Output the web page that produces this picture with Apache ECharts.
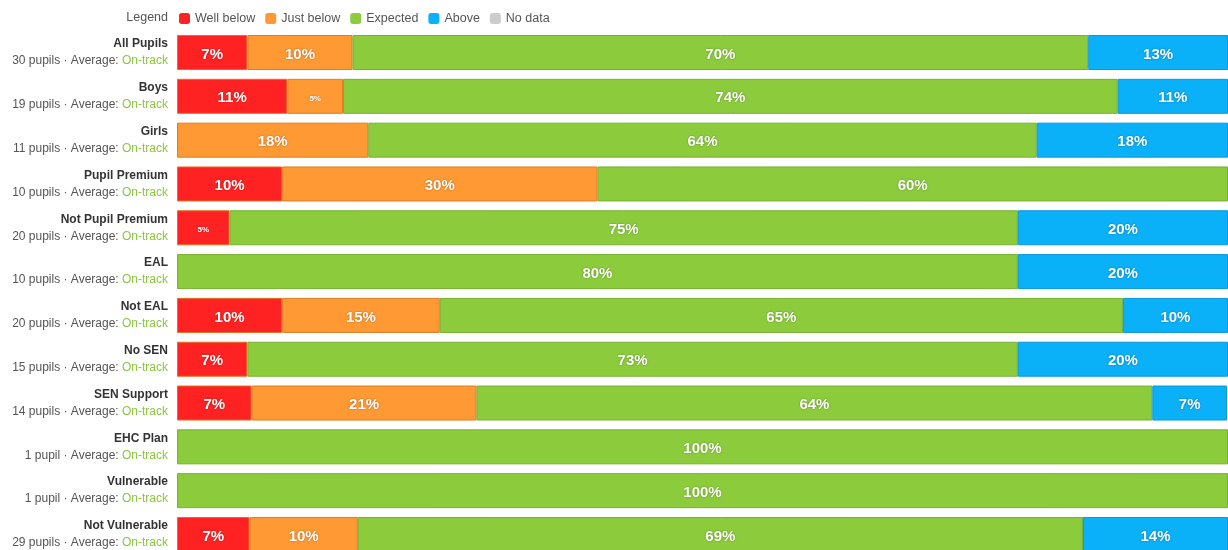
<!DOCTYPE html>
<html>
<head>
<meta charset="utf-8">
<script src="https://cdn.jsdelivr.net/npm/echarts@6/dist/echarts.min.js"></script>
<style>html,body{margin:0;padding:0;background:#fff;}#c{width:1228px;height:550px;}</style>
</head>
<body>
<div id="c"></div>
<script>
var categories = ['All Pupils','Boys','Girls','Pupil Premium','Not Pupil Premium','EAL','Not EAL','No SEN','SEN Support','EHC Plan','Vulnerable','Not Vulnerable'];
var pupils = [30,19,11,10,20,10,20,15,14,1,1,29];
var averages = ['On-track','On-track','On-track','On-track','On-track','On-track','On-track','On-track','On-track','On-track','On-track','On-track'];
var wellBelow = [6.7,10.5,0,10,5,0,10,6.7,7.1,0,0,6.9];
var justBelow = [10,5.3,18.2,30,0,0,15,0,21.4,0,0,10.3];
var expected = [70,73.7,63.6,60,75,80,65,73.3,64.3,100,100,69.0];
var above = [13.3,10.5,18.2,0,20,20,10,20,7.1,0,0,13.8];
var noData = [0,0,0,0,0,0,0,0,0,0,0,0];

var chart = echarts.init(document.getElementById('c'), null, {renderer:'canvas'});
function mk(name, data, color, border){
  return {
    name: name, type:'bar', stack:'s',
    data:data.map(function(v){ return v ? v : '-'; }), barWidth:35,
    itemStyle:{color:color, borderColor:border, borderWidth:1},
    label:{show:true, position:'inside', offset:[0,2], color:'#fff', fontWeight:'bold', fontFamily:'Liberation Sans, Arial, sans-serif',
      textShadowColor:'rgba(0,0,0,0.35)', textShadowBlur:2,
      formatter:function(p){ if(!p.value || p.value==='-') return ''; var r=Math.round(p.value); return r<6 ? '{s|'+r+'%}' : r+'%'; },
      fontSize:15,
      rich:{s:{fontSize:8, color:'#fff', fontWeight:'bold', fontFamily:'Liberation Sans, Arial, sans-serif'}}
    },
    emphasis:{disabled:true}
  };
}
chart.setOption({
  animation:false,
  textStyle:{fontFamily:'Liberation Sans, Arial, sans-serif'},
  graphic:[{type:'text', right:1228-168, top:11, style:{text:'Legend', fill:'#555', font:'12.5px Liberation Sans, Arial, sans-serif', textAlign:'right'}}],
  legend:{left:179, top:12, padding:0, itemWidth:11, itemHeight:11, itemGap:10, icon:'roundRect',
    itemStyle:{borderWidth:0},
    textStyle:{color:'#555', fontSize:12.5},
    data:['Well below','Just below','Expected','Above','No data']},
  grid:{left:177, right:0, top:30.6, height:525.8, containLabel:false, outerBoundsMode:'none'},
  xAxis:{type:'value', min:0, max:100, show:false},
  yAxis:{type:'category', data:categories, inverse:true,
    axisLine:{show:false}, axisTick:{show:false},
    axisLabel:{margin:9, align:'right', lineHeight:17,
      formatter:function(v, i){ var n=pupils[i]; return '{n|'+v+'}\n{g|'+n+(n===1?' pupil':' pupils')+' · Average: }{a|'+averages[i]+'}'; },
      rich:{n:{fontSize:12, fontWeight:'bold', color:'#333', align:'right', lineHeight:17},
            g:{fontSize:12, color:'#555', lineHeight:17},
            a:{fontSize:12, color:'#8cc63f', lineHeight:17}}}},
  series:[
    mk('Well below', wellBelow, '#ff2222', '#e0701c'),
    mk('Just below', justBelow, '#ff9933', '#e07d20'),
    mk('Expected', expected, '#8ccc3c', '#78b030'),
    mk('Above', above, '#0ab0f8', '#0a98d8'),
    mk('No data', noData, '#cccccc', '#b0b0b0')
  ]
});
</script>
</body>
</html>
